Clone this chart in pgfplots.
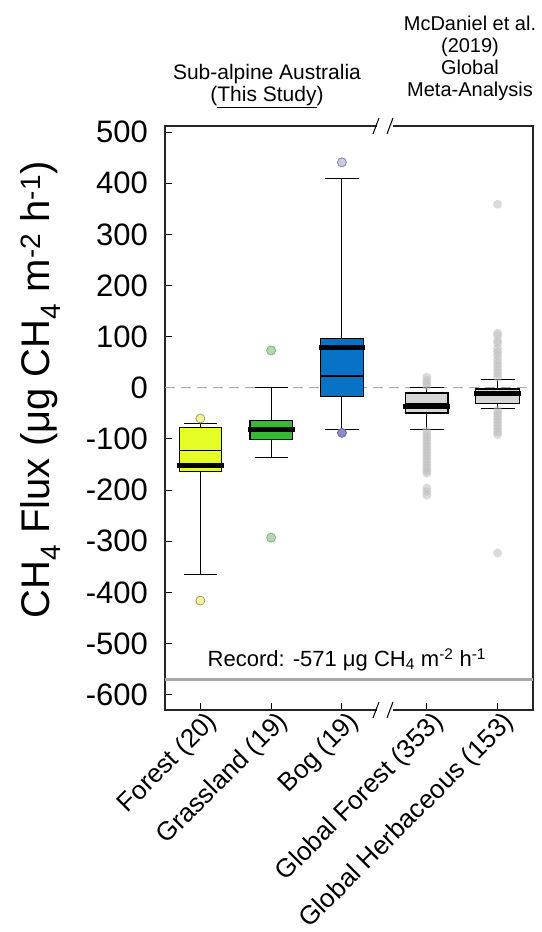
\documentclass[border=0pt]{standalone}
\usepackage{pgfplots}
\pgfplotsset{compat=1.18}
\usepgfplotslibrary{statistics}
\usepackage{fontspec}
\setmainfont{Liberation Sans}
\definecolor{forestc}{HTML}{E5FF26}
\definecolor{grassc}{HTML}{36B936}
\definecolor{bogc}{HTML}{0872C4}
\definecolor{globc}{HTML}{D6D6D6}
\definecolor{refgray}{HTML}{A8A8A8}
\definecolor{dotgray}{HTML}{BEBEBE}
\begin{document}
\begin{tikzpicture}
\useasboundingbox (-165pt,-222pt) rectangle (376pt,710pt);
\begin{axis}[
  at={(0pt,0pt)}, anchor=south west,
  scale only axis, width=368pt, height=584pt,
  xmin=-0.5, xmax=4.7, ymin=-630, ymax=512,
  xtick={0,1,2,3.2,4.2},
  xticklabels={Forest (20),Grassland (19),Bog (19),Global Forest (353),Global Herbaceous (153)},
  ytick={-600,-500,-400,-300,-200,-100,0,100,200,300,400,500},
  yticklabels={-600,-500,-400,-300,-200,-100,0,100,200,300,400,500},
  tick align=inside, xtick pos=bottom, ytick pos=left,
  major tick length=7pt,
  axis line style={line width=1.3pt, black!85},
  tick style={line width=1pt, black},
  clip=false,
  yticklabel style={font=\fontsize{31}{33}\selectfont, inner sep=0pt, anchor=east, xshift=-17pt},
  xticklabel style={font=\fontsize{26}{28}\selectfont, rotate=45, anchor=east, inner sep=0pt, xshift=3pt, yshift=-15pt},
  ylabel={CH\textsubscript{4} Flux (μg CH\textsubscript{4} m\textsuperscript{-2} h\textsuperscript{-1})},
  ylabel style={font=\fontsize{40}{43}\selectfont, at={(axis description cs:-0.3125,0.548)}, anchor=base},
  boxplot/draw direction=y,
  boxplot/every whisker/.style={black, line width=1pt},
  boxplot/every median/.style={black, line width=1.2pt},
  boxplot/every box/.style={draw=black, line width=1.3pt},
]
% reference lines
\addplot[refgray, line width=1pt, dash pattern=on 10pt off 6pt] coordinates {(-0.5,0) (4.7,0)};
\addplot[refgray, line width=3.5pt] coordinates {(-0.5,-570) (4.7,-570)};

% global outliers (drawn behind boxes)
\addplot[only marks, mark=*, mark size=4.5pt, color=dotgray, opacity=0.55, mark options={draw opacity=0, fill=dotgray}] coordinates {
 (3.2,21) (3.2,15) (3.2,9) (3.2,4)
 (3.2,-85) (3.2,-91) (3.2,-97) (3.2,-103) (3.2,-109) (3.2,-115) (3.2,-121) (3.2,-127)
 (3.2,-133) (3.2,-139) (3.2,-145) (3.2,-151) (3.2,-157) (3.2,-163) (3.2,-167)
 (3.2,-196) (3.2,-203) (3.2,-210)
};
\addplot[only marks, mark=*, mark size=4.5pt, color=dotgray, opacity=0.55, mark options={draw opacity=0, fill=dotgray}] coordinates {
 (4.2,359) (4.2,107) (4.2,102) (4.2,92) (4.2,87) (4.2,77) (4.2,70) (4.2,63) (4.2,55)
 (4.2,48) (4.2,42) (4.2,35) (4.2,28) (4.2,21)
 (4.2,-44) (4.2,-50) (4.2,-56) (4.2,-62) (4.2,-68) (4.2,-74) (4.2,-80) (4.2,-86) (4.2,-91)
 (4.2,-323)
};

% local outliers
\addplot[only marks, mark=*, mark size=4.5pt, mark options={draw=black!35!olive!60, fill=yellow!40!lime!40, line width=0.8pt}] coordinates {(0,-60) (0,-416)};
\addplot[only marks, mark=*, mark size=4.5pt, mark options={draw=green!40!black!50, fill=green!50!black!30!white, line width=0.8pt}] coordinates {(1,73) (1,-293)};
\addplot[only marks, mark=*, mark size=4.5pt, mark options={draw=blue!40!black!50, fill=blue!40!black!20!white, line width=0.8pt}] coordinates {(2,441)};
\addplot[only marks, mark=*, mark size=4.5pt, mark options={draw=blue!40!black!60, fill=blue!50!black!45!white, line width=0.8pt}] coordinates {(2,-88)};

% boxes
\addplot[boxplot prepared={draw position=0, lower whisker=-365, lower quartile=-164, median=-123, upper quartile=-78, upper whisker=-70, box extend=0.6, whisker extend=0.47}, draw=black, fill=forestc, line width=1.3pt] coordinates {};
\addplot[boxplot prepared={draw position=1, lower whisker=-136, lower quartile=-101, median=-82, upper quartile=-64, upper whisker=0, box extend=0.6, whisker extend=0.47}, draw=black, fill=grassc, line width=1.3pt] coordinates {};
\addplot[boxplot prepared={draw position=2, lower whisker=-82, lower quartile=-17, median=23, upper quartile=97, upper whisker=410, box extend=0.6, whisker extend=0.48}, draw=black, fill=bogc, line width=1.3pt] coordinates {};
\addplot[boxplot prepared={draw position=3.2, lower whisker=-82, lower quartile=-49, median=-31, upper quartile=-10, upper whisker=0, box extend=0.6, whisker extend=0.49}, draw=black, fill=globc, line width=1.3pt] coordinates {};
\addplot[boxplot prepared={draw position=4.2, lower whisker=-41, lower quartile=-30, median=-14, upper quartile=-2, upper whisker=17, box extend=0.62, whisker extend=0.48}, draw=black, fill=globc, line width=1.3pt] coordinates {};

% mean lines
\addplot[black, line width=5pt] coordinates {(-0.33,-152) (0.33,-152)};
\addplot[black, line width=5pt] coordinates {(0.67,-82) (1.33,-82)};
\addplot[black, line width=5pt] coordinates {(1.67,78) (2.33,78)};
\addplot[black, line width=5pt] coordinates {(2.87,-37) (3.53,-37)};
\addplot[black, line width=5pt] coordinates {(3.87,-12) (4.53,-12)};

\node[font=\fontsize{22}{24}\selectfont, anchor=base] at (axis cs:2.07,-545) {Record: -571 μg CH\textsubscript{4} m\textsuperscript{-2} h\textsuperscript{-1}};
\end{axis}
% axis breaks
\fill[white] (212pt,-4pt) rectangle (228pt,4pt);
\fill[white] (212pt,580pt) rectangle (228pt,588pt);
\draw[line width=1pt] (208pt,-8pt) -- (214pt,8pt) (222pt,-8pt) -- (228pt,8pt);
\draw[line width=1pt] (208pt,576pt) -- (214pt,592pt) (222pt,576pt) -- (228pt,592pt);
% titles
\node[font=\fontsize{21}{22}\selectfont, align=center] at (102pt,624pt) {Sub-alpine Australia\\(\underline{This Study})};
\node[font=\fontsize{20}{22}\selectfont, align=center] at (305pt,652pt) {McDaniel et al.\\(2019)\\Global\\Meta-Analysis};
\end{tikzpicture}
\end{document}
